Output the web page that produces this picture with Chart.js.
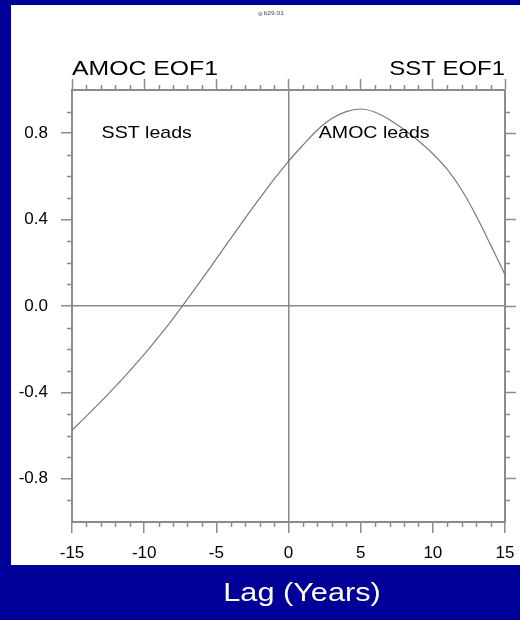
<!DOCTYPE html>
<html>
<head>
<meta charset="utf-8">
<script src="https://cdn.jsdelivr.net/npm/chart.js@4/dist/chart.umd.min.js"></script>
<style>
  html, body { margin: 0; padding: 0; background: #000099; }
  canvas { display: block; }
</style>
</head>
<body>
<canvas id="lagChart" width="520" height="620"></canvas>
<script>
// lag correlation between AMOC EOF1 and SST EOF1
const lags = [-15, -14, -13, -12, -11, -10, -9, -8, -7, -6, -5, -4, -3, -2, -1,
  0, 1, 2, 3, 4, 5, 6, 7, 8, 9, 10, 11, 12, 13, 14, 15];
const corr = [-0.575, -0.51, -0.443, -0.373, -0.30, -0.224, -0.143, -0.058, 0.032, 0.124,
  0.218, 0.313, 0.407, 0.498, 0.587, 0.67, 0.745, 0.815, 0.868, 0.90, 0.912, 0.897,
  0.862, 0.817, 0.765, 0.705, 0.632, 0.537, 0.418, 0.283, 0.145];
const xMajor = [-15, -10, -5, 0, 5, 10, 15];
const yMajor = [-0.8, -0.4, 0.0, 0.4, 0.8];
const leadLabels = [
  { text: "SST leads", lag: -12.95, value: 0.8 },
  { text: "AMOC leads", lag: 2.1, value: 0.8 },
];

const AXIS_GREY = "#8c8c8c";
const FONT = "'Liberation Sans', Arial, Helvetica, sans-serif";

function wideText(ctx, text, x, y, size, color, align, sx) {
  ctx.save();
  ctx.translate(x, y);
  ctx.scale(sx, 1);
  ctx.font = size + "px " + FONT;
  ctx.fillStyle = color;
  ctx.textAlign = align;
  ctx.textBaseline = "middle";
  ctx.fillText(text, 0, 0);
  ctx.restore();
}

// pin each axis box so the plot frame lands at fixed edges
function pinBox(size) {
  return s => {
    if (s.isHorizontal()) s.height = size; else s.width = size;
    s.paddingLeft = s.paddingRight = s.paddingTop = s.paddingBottom = 0;
  };
}

const panel = {
  id: "panel",
  beforeDraw(chart) {
    const ctx = chart.ctx;
    ctx.save();
    ctx.fillStyle = "#000099";
    ctx.fillRect(0, 0, chart.width, chart.height);
    ctx.fillStyle = "#ffffff";
    ctx.fillRect(11, 5, chart.width - 11, 560);
    ctx.restore();
  },
  afterDraw(chart) {
    const ctx = chart.ctx;
    const { x, y } = chart.scales;
    const area = chart.chartArea;

    // minor ticks, pointing outwards on all four sides
    ctx.save();
    ctx.strokeStyle = AXIS_GREY;
    ctx.lineWidth = 1.5;
    ctx.beginPath();
    for (let v = -14; v <= 14; v++) {
      if (v % 5 === 0) continue;
      const px = Math.round(x.getPixelForValue(v)) + 0.5;
      ctx.moveTo(px, area.bottom);
      ctx.lineTo(px, area.bottom + 5);
      ctx.moveTo(px, area.top);
      ctx.lineTo(px, area.top - 5);
    }
    for (let i = -9; i <= 9; i++) {
      if (i % 4 === 0) continue;
      const py = Math.round(y.getPixelForValue(i / 10)) + 0.5;
      ctx.moveTo(area.left, py);
      ctx.lineTo(area.left - 5, py);
      ctx.moveTo(area.right, py);
      ctx.lineTo(area.right + 5, py);
    }
    ctx.stroke();
    ctx.restore();

    wideText(ctx, "g.b29.01", 271, 13, 6, "#444", "center", 1.1);
    wideText(ctx, "AMOC EOF1", area.left, 69, 21, "#000", "left", 1.18);
    wideText(ctx, "SST EOF1", area.right, 69, 21, "#000", "right", 1.14);
    leadLabels.forEach(l => {
      wideText(ctx, l.text, x.getPixelForValue(l.lag), y.getPixelForValue(l.value),
        17, "#000", "left", 1.15);
    });
    wideText(ctx, "Lag (Years)", 302, 594, 26, "#fff", "center", 1.18);
  },
};

function zeroLine(c) {
  return c.tick && c.tick.value === 0 ? "#888888" : "rgba(0,0,0,0)";
}

new Chart(document.getElementById("lagChart"), {
  type: "line",
  data: {
    labels: lags,
    datasets: [{
      data: lags.map((l, i) => ({ x: l, y: corr[i] })),
      borderColor: "#7a7a7a",
      borderWidth: 1.2,
      pointRadius: 0,
      tension: 0.4,
      fill: false,
    }],
  },
  options: {
    responsive: false,
    animation: false,
    devicePixelRatio: 1,
    layout: { padding: 0 },
    plugins: {
      legend: { display: false },
      tooltip: { enabled: false },
    },
    scales: {
      x: {
        type: "linear",
        position: "bottom",
        min: -15,
        max: 15,
        afterBuildTicks: s => { s.ticks = xMajor.map(v => ({ value: v })); },
        afterFit: pinBox(98),
        ticks: {
          color: "#000",
          font: { family: FONT, size: 17 },
          padding: 10,
          maxRotation: 0,
          autoSkip: false,
          callback: v => String(v),
        },
        grid: {
          color: zeroLine,
          lineWidth: 1.5,
          tickColor: AXIS_GREY,
          tickLength: 11,
          tickWidth: 1.5,
        },
        border: { color: AXIS_GREY, width: 2 },
      },
      x2: {
        type: "linear",
        position: "top",
        min: -15,
        max: 15,
        afterBuildTicks: s => { s.ticks = xMajor.map(v => ({ value: v })); },
        afterFit: pinBox(90),
        ticks: { display: false },
        grid: {
          drawOnChartArea: false,
          tickColor: AXIS_GREY,
          tickLength: 11,
          tickWidth: 1.5,
        },
        border: { color: AXIS_GREY, width: 2 },
      },
      y: {
        type: "linear",
        position: "left",
        min: -1,
        max: 1,
        afterBuildTicks: s => { s.ticks = yMajor.map(v => ({ value: v })); },
        afterFit: pinBox(72),
        ticks: {
          color: "#000",
          font: { family: FONT, size: 17 },
          padding: 13,
          callback: v => v.toFixed(1),
        },
        grid: {
          color: zeroLine,
          lineWidth: 1.5,
          tickColor: AXIS_GREY,
          tickLength: 11,
          tickWidth: 1.5,
        },
        border: { color: AXIS_GREY, width: 2 },
      },
      y2: {
        type: "linear",
        position: "right",
        min: -1,
        max: 1,
        afterBuildTicks: s => { s.ticks = yMajor.map(v => ({ value: v })); },
        afterFit: pinBox(15),
        ticks: { display: false },
        grid: {
          drawOnChartArea: false,
          tickColor: AXIS_GREY,
          tickLength: 11,
          tickWidth: 1.5,
        },
        border: { color: AXIS_GREY, width: 2 },
      },
    },
  },
  plugins: [panel],
});
</script>
</body>
</html>
